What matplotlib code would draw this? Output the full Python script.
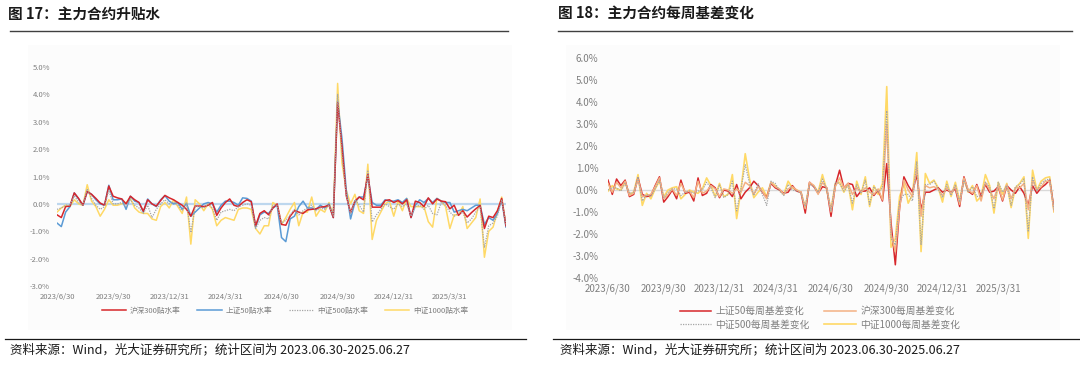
import matplotlib
matplotlib.use("Agg")
import matplotlib.pyplot as plt
from matplotlib.lines import Line2D
from matplotlib.patches import Rectangle

plt.rcParams['font.family'] = ['Noto Sans CJK SC', 'DejaVu Sans']
plt.rcParams['axes.unicode_minus'] = False

# 周度日期标签（每13周一个）
tick_labels = ['2023/6/30', '2023/9/30', '2023/12/31', '2024/3/31',
               '2024/6/30', '2024/9/30', '2024/12/31', '2025/3/31']

# 图17：主力合约升贴水（%）
hs300_prem = [
    -0.40, -0.50, -0.10, -0.08, 0.40, 0.20, -0.05, 0.45, 0.35, 0.20,
    0.03, -0.05, 0.65, 0.28, 0.22, 0.18, 0.00, 0.28, 0.15, 0.05,
    -0.27, 0.15, 0.00, -0.08, 0.12, 0.31, 0.22, 0.15, 0.05, -0.05,
    -0.20, -0.45, -0.08, -0.08, -0.10, -0.05, 0.05, -0.42, -0.15, 0.05,
    0.18, -0.05, -0.10, 0.05, 0.15, 0.08, -0.80, -0.35, -0.25, -0.40,
    -0.15, 0.00, -0.75, -0.78, -0.45, -0.25, -0.30, -0.35, -0.22, -0.20,
    -0.18, -0.12, -0.10, -0.05, -0.50, 3.70, 2.10, 0.30, -0.32, 0.10,
    0.25, 0.15, 1.10, -0.12, -0.12, -0.12, 0.12, 0.15, 0.05, 0.12,
    0.00, 0.15, -0.50, 0.10, 0.05, -0.10, 0.22, 0.00, 0.18, 0.10,
    0.08, -0.18, -0.05, -0.42, -0.25, -0.48, -0.32, -0.18, -0.06, -0.90,
    -0.45, -0.50, -0.25, 0.20, -0.80]
sz50_prem = [
    -0.70, -0.83, -0.30, -0.10, 0.40, 0.18, -0.05, 0.45, 0.35, 0.15,
    0.00, -0.05, 0.68, 0.15, 0.15, 0.18, -0.20, 0.28, 0.10, 0.05,
    -0.30, 0.18, 0.00, -0.10, 0.15, 0.30, 0.10, 0.00, 0.05, -0.20,
    0.02, -0.45, -0.30, -0.15, 0.00, 0.05, 0.00, -0.30, -0.05, 0.10,
    0.10, 0.05, -0.05, 0.22, 0.20, 0.10, -0.85, -0.40, -0.30, -0.35,
    -0.15, -0.05, -1.23, -1.38, -0.55, -0.45, -0.10, 0.10, -0.15, -0.15,
    -0.20, -0.05, -0.15, 0.00, -0.50, 3.75, 2.40, 0.50, -0.55, 0.05,
    0.25, 0.25, 1.00, 0.05, -0.05, -0.05, 0.15, 0.10, 0.10, 0.15,
    0.05, 0.20, -0.50, -0.05, 0.15, 0.05, 0.20, 0.05, 0.20, 0.10,
    0.05, 0.05, -0.30, -0.25, -0.20, -0.25, -0.15, -0.05, -0.05, -0.75,
    -0.50, -0.60, -0.35, 0.15, -0.85]
zz500_prem = [
    -0.20, -0.15, -0.05, -0.05, 0.30, 0.05, -0.05, 0.55, 0.20, -0.05,
    -0.20, -0.10, 0.50, 0.00, 0.00, 0.05, -0.10, 0.15, -0.05, -0.15,
    -0.35, -0.05, -0.50, -0.20, 0.00, 0.15, 0.00, 0.05, -0.05, -0.25,
    0.05, -1.05, -0.10, -0.10, -0.15, 0.00, -0.15, -0.60, -0.30, -0.25,
    -0.20, -0.25, -0.10, -0.05, 0.00, -0.05, -0.90, -0.60, -0.50, -0.55,
    -0.05, -0.05, -0.70, -0.60, -0.40, -0.20, -0.40, -0.25, -0.15, -0.05,
    -0.25, -0.15, -0.20, -0.05, -0.45, 4.00, 1.80, 0.30, -0.35, 0.15,
    -0.05, -0.30, 1.20, -0.66, -0.40, -0.20, 0.00, -0.10, -0.20, 0.00,
    -0.10, 0.00, -0.45, -0.10, -0.05, -0.20, -0.05, -0.35, -0.40, 0.05,
    -0.05, -0.30, -0.45, -0.35, -0.30, -0.70, -0.55, -0.30, -0.10, -1.60,
    -0.80, -0.70, -0.45, 0.15, -0.75]
zz1000_prem = [
    -0.30, -0.15, -0.05, -0.10, 0.15, 0.00, -0.05, 0.70, 0.10, -0.10,
    -0.45, -0.20, 0.15, -0.05, -0.05, 0.00, 0.05, 0.20, -0.15, -0.30,
    -0.35, -0.35, -0.55, -0.60, -0.10, 0.05, -0.15, 0.15, -0.10, -0.35,
    0.25, -1.47, 0.15, 0.00, -0.25, 0.00, -0.20, -0.80, -0.60, -0.50,
    -0.55, -0.60, -0.20, -0.15, -0.15, -0.20, -0.90, -1.10, -0.80, -0.80,
    0.05, -0.05, -0.75, -0.50, -0.20, 0.05, -0.80, -0.30, -0.30, 0.25,
    -0.45, -0.20, -0.30, 0.05, -0.40, 4.40, 1.50, 0.50, 0.00, 0.35,
    -0.25, -0.35, 1.45, -1.30, -0.60, -0.30, 0.00, 0.10, -0.45, 0.10,
    -0.25, 0.20, -0.10, -0.10, -0.10, -0.10, -0.65, -0.85, 0.20, 0.10,
    -0.10, -0.90, -0.40, -0.40, -0.10, -0.90, -0.70, -0.50, 0.18, -1.95,
    -1.00, -0.85, -0.30, 0.25, -0.80]

# 图18：主力合约每周基差变化（%）
sz50_chg = [
    0.45, -0.20, 0.50, 0.20, 0.45, -0.30, -0.20, 0.55, -0.20, -0.30,
    -0.25, 0.20, 0.60, -0.55, -0.30, 0.00, -0.40, 0.45, -0.15, -0.10,
    -0.50, 0.55, -0.25, -0.15, 0.25, 0.10, -0.35, 0.00, -0.05, -0.30,
    0.25, -0.40, -0.10, 0.10, 0.40, 0.20, -0.10, -0.35, 0.30, 0.10,
    0.00, -0.15, -0.10, 0.20, -0.05, -0.10, -1.05, 0.35, 0.15, -0.15,
    0.15, 0.10, -1.20, 0.20, 0.90, 0.10, 0.30, 0.25, -0.30, -0.05,
    -0.05, 0.10, -0.25, 0.00, -0.50, 1.20, -1.50, -3.40, -0.80, 0.60,
    0.20, -0.10, 0.70, -0.90, -0.10, -0.10, 0.00, 0.10, -0.10, 0.00,
    -0.10, 0.05, -0.75, 0.60, -0.05, -0.20, 0.25, -0.30, 0.25, -0.10,
    -0.05, 0.15, -0.50, 0.20, 0.00, -0.15, 0.15, -0.15, -0.70, 0.20,
    -0.15, 0.10, 0.25, 0.45, -0.85]
hs300_chg = [
    0.30, -0.10, 0.35, 0.10, 0.40, -0.25, -0.15, 0.50, -0.30, -0.25,
    -0.20, 0.15, 0.55, -0.40, -0.20, 0.05, -0.25, 0.30, -0.10, -0.05,
    -0.35, 0.40, -0.15, -0.05, 0.20, 0.05, -0.30, 0.05, 0.00, -0.15,
    0.05, -0.10, 0.35, 0.20, -0.20, 0.15, -0.05, -0.40, 0.35, 0.15,
    0.05, -0.20, 0.05, 0.15, 0.00, -0.10, -0.85, 0.35, 0.20, -0.20,
    0.35, 0.10, -1.00, 0.15, 0.55, 0.10, 0.30, -0.20, 0.10, -0.10,
    0.10, -0.10, -0.20, 0.05, -0.45, 3.00, -2.00, -2.80, -0.80, 0.45,
    0.00, -0.30, 1.00, -1.20, 0.20, 0.10, 0.15, 0.05, -0.25, 0.10,
    -0.15, 0.15, -0.65, 0.55, 0.00, -0.15, 0.20, -0.50, 0.35, 0.00,
    -0.40, 0.20, -0.45, 0.25, -0.40, 0.10, 0.10, 0.30, -0.90, 0.45,
    0.00, 0.15, 0.40, 0.40, -0.95]
zz500_chg = [
    0.00, 0.10, 0.10, -0.05, 0.30, -0.15, -0.10, 0.60, -0.50, -0.20,
    -0.30, 0.05, 0.45, -0.35, -0.10, 0.05, 0.05, -0.25, -0.10, -0.05,
    -0.15, -0.05, 0.00, 0.35, 0.10, -0.35, 0.25, -0.35, -0.20, 0.40,
    -0.95, 0.05, 1.15, 0.30, -0.25, 0.30, -0.20, -0.70, 0.40, 0.30,
    -0.05, -0.25, 0.25, 0.00, -0.05, -0.15, -0.75, 0.25, 0.15, -0.10,
    0.50, 0.05, -0.95, 0.35, 0.30, -0.05, 0.20, -0.60, 0.25, -0.15,
    0.45, -0.65, 0.15, -0.10, 0.10, 3.60, -2.20, -2.50, -0.50, -0.20,
    -0.20, -0.50, 1.30, -2.50, 0.25, 0.25, 0.40, 0.05, -0.35, 0.25,
    -0.25, 0.25, -0.55, 0.45, -0.10, 0.15, -0.30, -0.25, 0.35, 0.15,
    -0.85, 0.35, -0.10, 0.20, -0.70, 0.15, 0.25, 0.50, -1.90, 0.60,
    -0.05, 0.30, 0.45, 0.50, -0.90]
zz1000_chg = [
    -0.05, 0.20, 0.05, 0.00, 0.35, -0.20, -0.10, 0.70, -0.70, -0.15,
    -0.40, 0.05, 0.40, -0.30, 0.00, 0.10, 0.15, -0.40, -0.20, 0.00,
    -0.10, -0.15, 0.05, 0.55, 0.20, -0.30, 0.30, -0.30, -0.20, 0.70,
    -1.30, 0.00, 1.65, 0.50, -0.35, -0.10, 0.10, -0.30, 0.35, 0.20,
    0.00, -0.20, 0.40, 0.10, 0.00, -0.10, -0.80, 0.30, 0.20, -0.10,
    0.70, 0.00, -0.90, 0.30, 0.35, -0.10, 0.30, -0.90, 0.40, -0.20,
    0.60, -0.75, 0.20, -0.20, 0.30, 4.70, -2.60, -2.20, -0.30, 0.30,
    -0.60, -0.20, 1.70, -2.80, 0.75, 0.30, 0.45, 0.10, -0.55, 0.40,
    -0.30, 0.35, -0.50, 0.50, -0.10, 0.20, -0.50, -0.30, 0.70, 0.20,
    -1.05, 0.35, -0.20, 0.30, -0.80, 0.10, 0.30, 0.60, -2.20, 0.90,
    0.00, 0.40, 0.55, 0.60, -1.00]

W, H = 1080, 365
fig = plt.figure(figsize=(W / 100, H / 100), dpi=100)
fig.patch.set_facecolor('white')


def px(x0, y0, x1, y1):
    # 像素坐标 -> figure 比例 [left, bottom, width, height]
    return [x0 / W, 1 - y1 / H, (x1 - x0) / W, (y1 - y0) / H]


GRAY = '#7F7F7F'
source = '资料来源：Wind，光大证券研究所；统计区间为 2023.06.30-2025.06.27'

# 背景与标题
for (x0, x1) in [(28, 512), (566, 1060)]:
    fig.patches.append(Rectangle((x0 / W, 1 - 330 / H), (x1 - x0) / W, 285 / H,
                                 transform=fig.transFigure, facecolor='#FCFCFC',
                                 edgecolor='none', zorder=-5))
fig.text(8 / W, 1 - 14 / H, '图 17：主力合约升贴水', fontsize=10.5, fontweight='bold',
         va='center', ha='left', color='#1a1a1a')
fig.text(558 / W, 1 - 14 / H, '图 18：主力合约每周基差变化', fontsize=10.5, fontweight='bold',
         va='center', ha='left', color='#1a1a1a')
for (x0, x1) in [(10, 508), (558, 1072)]:
    fig.add_artist(Line2D([x0 / W, x1 / W], [1 - 31 / H, 1 - 31 / H], color='#404040', lw=1.0))
    fig.add_artist(Line2D([x0 / W - 5 / W, x1 / W + 18 / W], [1 - 339 / H, 1 - 339 / H],
                          color='#1a1a1a', lw=0.9))
fig.text(10 / W, 1 - 350 / H, source, fontsize=9, va='center', ha='left', color='#1a1a1a')
fig.text(560 / W, 1 - 350 / H, source, fontsize=9, va='center', ha='left', color='#1a1a1a')

x = list(range(len(hs300_prem)))
tick_pos = [13 * k for k in range(len(tick_labels))]

# 左图
ax1 = fig.add_axes(px(57, 67, 506, 286))
ax1.set_facecolor('none')
ax1.set_zorder(2)
ax1.axhline(0, color='#BDD7EE', lw=1.6, zorder=1)
l1, = ax1.plot(x, hs300_prem, color='#D7262B', lw=1.1, zorder=4, label='沪深300贴水率')
l2, = ax1.plot(x, sz50_prem, color='#5B9BD5', lw=1.1, zorder=3, label='上证50贴水率')
l3, = ax1.plot(x, zz500_prem, color='#A5A5A5', lw=0.9, ls=(0, (1, 1)), zorder=5, label='中证500贴水率')
l4, = ax1.plot(x, zz1000_prem, color='#FFD966', lw=1.1, zorder=2, label='中证1000贴水率')
ax1.set_xlim(0, 104)
ax1.set_ylim(-3, 5)
ax1.set_yticks(range(-3, 6))
ax1.set_yticklabels([f'{v:.1f}%' for v in range(-3, 6)])
ax1.set_xticks(tick_pos)
ax1.set_xticklabels(tick_labels)
ax1.tick_params(axis='both', length=0, labelsize=5.5, colors=GRAY)
ax1.tick_params(axis='y', pad=5)
ax1.tick_params(axis='x', pad=5)
for s in ax1.spines.values():
    s.set_visible(False)
fig.legend(handles=[l1, l2, l3, l4], loc='center', bbox_to_anchor=(285 / W, 1 - 311 / H),
           ncol=4, frameon=False, fontsize=5.5, labelcolor=GRAY, handlelength=3.2,
           columnspacing=2.2, handletextpad=0.5)

# 右图
ax2 = fig.add_axes(px(608, 58, 1054, 278))
ax2.set_facecolor('none')
ax2.set_zorder(2)
ax2.axhline(0, color='#D9D9D9', lw=1.0, zorder=1)
r1, = ax2.plot(x, sz50_chg, color='#D7262B', lw=1.1, zorder=3, label='上证50每周基差变化')
r2, = ax2.plot(x, hs300_chg, color='#F4B183', lw=1.1, zorder=4, label='沪深300每周基差变化')
r3, = ax2.plot(x, zz500_chg, color='#A5A5A5', lw=0.9, ls=(0, (1, 1)), zorder=5, label='中证500每周基差变化')
r4, = ax2.plot(x, zz1000_chg, color='#FFD966', lw=1.2, zorder=2, label='中证1000每周基差变化')
ax2.set_xlim(0, 104)
ax2.set_ylim(-4, 6)
ax2.set_yticks(range(-4, 7))
ax2.set_yticklabels([f'{v:.1f}%' for v in range(-4, 7)])
ax2.set_xticks(tick_pos)
ax2.set_xticklabels(tick_labels)
ax2.tick_params(axis='both', length=0, labelsize=7, colors=GRAY)
ax2.tick_params(axis='y', pad=7)
ax2.tick_params(axis='x', pad=4)
for s in ax2.spines.values():
    s.set_visible(False)
fig.legend(handles=[r1, r3, r2, r4], loc='center', bbox_to_anchor=(820 / W, 1 - 318 / H),
           ncol=2, frameon=False, fontsize=7, labelcolor=GRAY, handlelength=3.2,
           columnspacing=1.5, handletextpad=0.5, labelspacing=0.35)

fig.savefig('out.png', dpi=100)
